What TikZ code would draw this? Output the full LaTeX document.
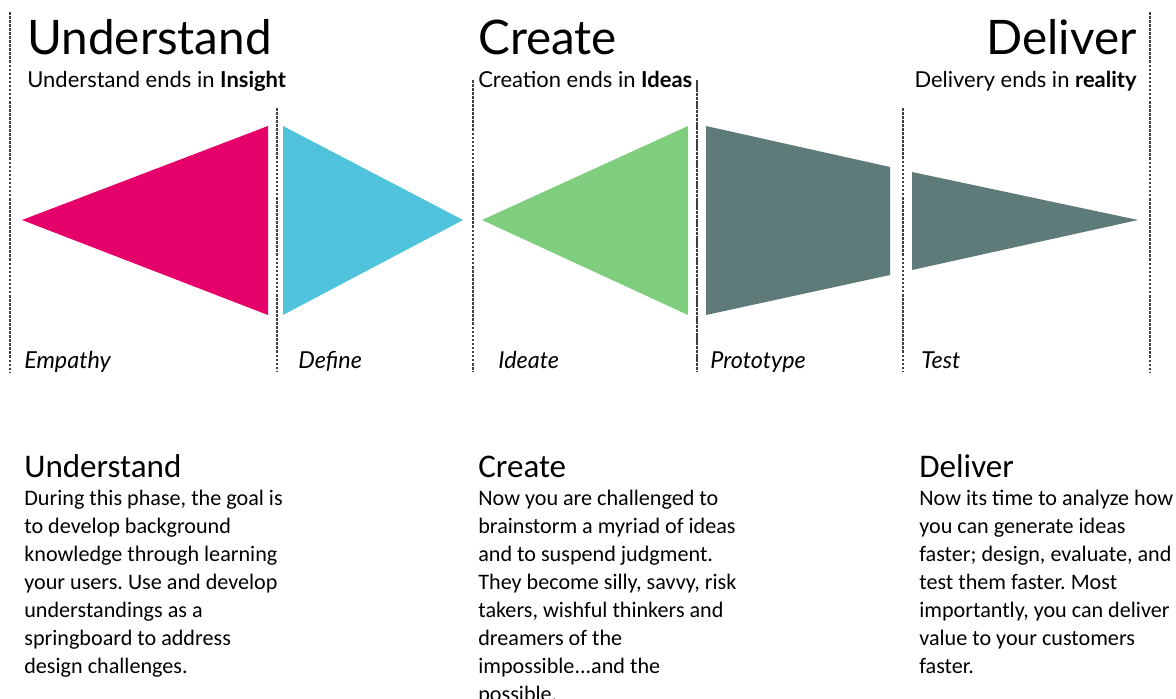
\documentclass[tikz,border=0pt]{standalone}
\usepackage{fontspec}
\setmainfont{Carlito}
\newfontfamily\gillfont{Lato}
\usepackage{tikz}
\usetikzlibrary{positioning}
\usepackage{xcolor}
\frenchspacing

\definecolor{empathy}{HTML}{E5006A}
\definecolor{define}{HTML}{4EC3DB}
\definecolor{ideate}{HTML}{7ECE7E}
\definecolor{proto}{HTML}{5E7B79}

\begin{document}
\begin{tikzpicture}[
  x=0.02cm, y=-0.02cm,
  title/.style={font=\gillfont\fontsize{27.1}{30}\selectfont, inner sep=0, anchor=base west},
  subtitle/.style={font=\gillfont\fontsize{12.5}{14}\selectfont, inner sep=0, anchor=base west},
  phase/.style={font=\gillfont\itshape\fontsize{13.3}{15}\selectfont, inner sep=0, anchor=base west},
  heading/.style={font=\fontsize{18.8}{20}\selectfont, inner sep=0, anchor=base west},
  body/.style={font=\fontsize{12.6}{15.9}\selectfont, inner sep=0, align=left, anchor=base west},
  divider/.style={draw=black!75, line width=0.6pt, dash pattern=on 1.5pt off 0.8pt},
]
\useasboundingbox (0,0) rectangle (1176,699);

% phase dividers
\draw[divider] (10,12) -- (10,372);
\draw[divider] (277,108) -- (277,372);
\draw[divider] (473,80) -- (473,372);
\draw[divider, dash pattern=on 2pt off 0.4pt] (697,80) -- (697,372);
\draw[divider] (903,108) -- (903,372);
\draw[divider] (1150,12) -- (1150,372);

% diverge / converge shapes
\fill[empathy] (22,220) -- (268,126) -- (268,315) -- cycle;
\fill[define] (283,126) -- (463,220) -- (283,315) -- cycle;
\fill[ideate] (482,220) -- (688,126) -- (688,315) -- cycle;
\fill[proto] (706,126) -- (890,167) -- (890,275) -- (706,315) -- cycle;
\fill[proto] (912,172) -- (1138,220) -- (912,270) -- cycle;

% headers
\node[title] (understand) at (27,55) {Understand};
\node[subtitle] (insight) at (27,88) {Understand ends in \textbf{Insight}};
\node[title] (create) at (478,55) {Create};
\node[subtitle] (ideas) at (478,88) {Creation ends in \textbf{Ideas}};
\node[title, anchor=base east] (deliver) at (1137,55) {Deliver};
\node[subtitle, anchor=base east] (reality) at (1137,88) {Delivery ends in \textbf{reality}};

% step labels
\node[phase] (empathyl) at (24,368) {Empathy};
\node[phase] (definel) at (298,368) {Define};
\node[phase] (ideatel) at (498,368) {Ideate};
\node[phase] (protol) at (710,368) {Prototype};
\node[phase] (testl) at (921,368) {Test};

% descriptions (base anchor sits on the last line)
\node[heading] (understandh) at (24,477) {Understand};
\node[body] (understandb) at (24,673) {During this phase, the goal is\\
  to develop background\\
  knowledge through learning\\
  your users. Use and develop\\
  understandings as a\\
  springboard to address\\
  design challenges.};

\node[heading] (createh) at (478,477) {Create};
\node[body] (createb) at (478,701) {Now you are challenged to\\
  brainstorm a myriad of ideas\\
  and to suspend judgment.\\
  They become silly, savvy, risk\\
  takers, wishful thinkers and\\
  dreamers of the\\
  impossible...and the\\
  possible.};

\node[heading] (deliverh) at (919,477) {Deliver};
\node[body] (deliverb) at (919,673) {Now its time to analyze how\\
  you can generate ideas\\
  faster; design, evaluate, and\\
  test them faster. Most\\
  importantly, you can deliver\\
  value to your customers\\
  faster.};
\end{tikzpicture}
\end{document}
